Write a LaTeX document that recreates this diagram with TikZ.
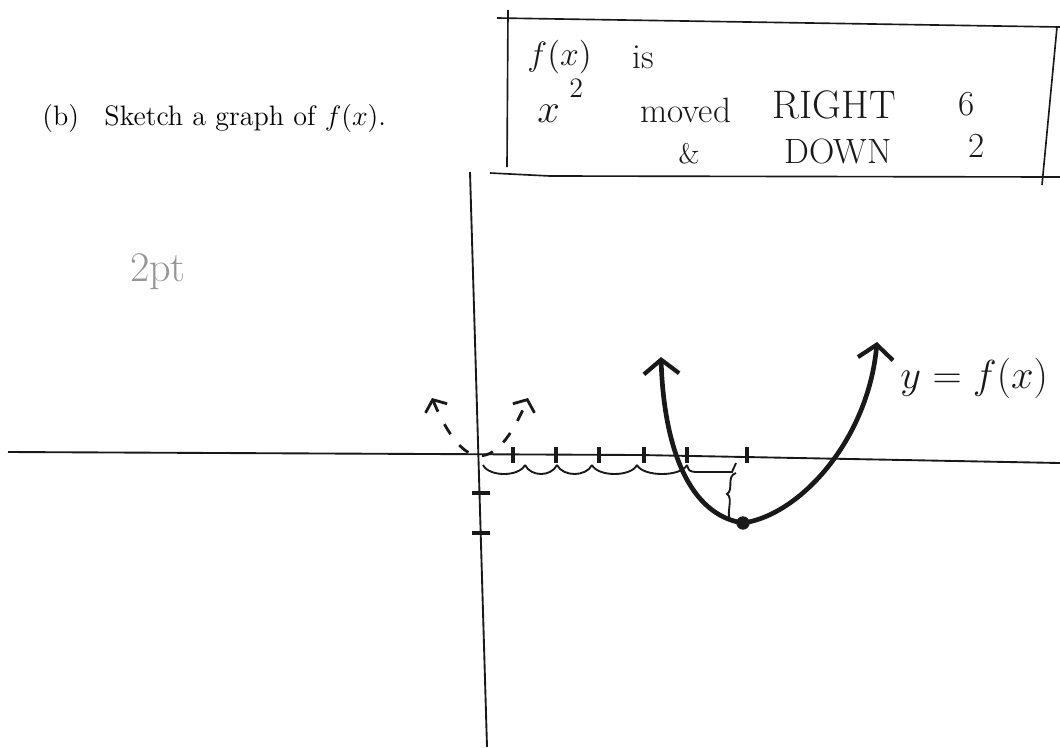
\documentclass[tikz,border=0pt]{standalone}
\usepackage{amsmath,amssymb}
\usepackage{tikz}
\usetikzlibrary{arrows.meta, positioning}
\definecolor{ink}{RGB}{25,25,25}
\definecolor{pencil}{RGB}{150,150,150}

\begin{document}
\begin{tikzpicture}[
    x=0.015cm, y=-0.015cm,
    axis/.style={line width=0.8pt, ink},
    tickmark/.style={line width=1.6pt, ink},
    boxline/.style={line width=0.7pt, ink},
    hand/.style={ink, inner sep=0pt, anchor=base west, font=\fontsize{15}{18}\selectfont},
    bighand/.style={hand, font=\fontsize{17}{20}\selectfont},
    smallhand/.style={hand, font=\fontsize{12}{14}\selectfont},
    scallop/.style={line width=0.8pt, ink},
    graphline/.style={line width=2pt, ink,
                {Straight Barb[length=6pt, width=15pt, line width=1.8pt]}-{Straight Barb[length=6pt, width=15pt, line width=1.8pt]}},
    dashline/.style={line width=1.2pt, ink, dash pattern=on 5pt off 6pt,
                {Straight Barb[length=4pt, width=10pt, line width=1.2pt]}-{Straight Barb[length=4pt, width=10pt, line width=1.2pt]}}
]
\useasboundingbox (0,0) rectangle (1060,747);

\node[anchor=base west, inner sep=0pt, font=\fontsize{12}{14}\selectfont] (question) at (42,125) {(b)\hspace{0.9em}Sketch a graph of $f(x)$.};

% Note box
\draw[boxline] (508,10) -- (507,167);
\draw[boxline] (497,18) -- (1060,27);
\draw[boxline] (1057,27) -- (1042,185);
\draw[boxline] (490,173) -- (550,176) -- (1060,177);

\node[hand] (fx) at (527,65) {$f(x)$};
\node[hand] (is) at (632,68) {is};
\node[bighand] (xsym) at (537,122) {$x$};
\node[smallhand] (xsq) at (569,97) {2};
\node[hand] (moved) at (640,122) {moved};
\node[bighand] (right) at (772,118) {RIGHT};
\node[hand] (six) at (958,115) {6};
\node[smallhand] (amp) at (678,163) {\&};
\node[hand] (down) at (784,163) {DOWN};
\node[hand] (two) at (968,157) {2};

\node[pencil, font=\fontsize{18}{20}\selectfont] (grade) at (158,272) {2pt};

% Axes and ticks
\draw[axis] (8,452) -- (640,455) -- (1060,463);
\draw[axis] (470,172) -- (487,747);
\foreach \tx in {513,556,599,644,687,747}
    \draw[tickmark] (\tx,447) -- (\tx,463);
\foreach \ty in {493,533}
    \draw[tickmark] (472,\ty) -- (490,\ty);

% Counting right 6 and down 2
\foreach \a/\b in {483/525, 525/557, 557/592, 592/637, 637/687}
    \draw[scallop] (\a,465) .. controls ({\a+6},477) and ({\b-6},477) .. (\b,465);
\draw[scallop] (687,465) .. controls (689,471) .. (695,472) -- (732,472) -- (736,463);
\draw[scallop] (736,473) .. controls (726,476) and (734,490) .. (727,494)
    .. controls (734,498) and (725,515) .. (731,521);

% y = x^2 and the moved graph
\draw[dashline] (432,398) .. controls (464,474) and (496,474) .. (528,398);
\draw[graphline] (661,357) .. controls (664,450) and (690,515) .. (743,523)
    .. controls (800,515) and (868,440) .. (877,342);
\node[circle, fill=ink, inner sep=0pt, minimum size=0.2cm] (vertex) at (743,523) {};
\node[bighand] (label) at (900,388) {$y = f(x)$};

\end{tikzpicture}
\end{document}
